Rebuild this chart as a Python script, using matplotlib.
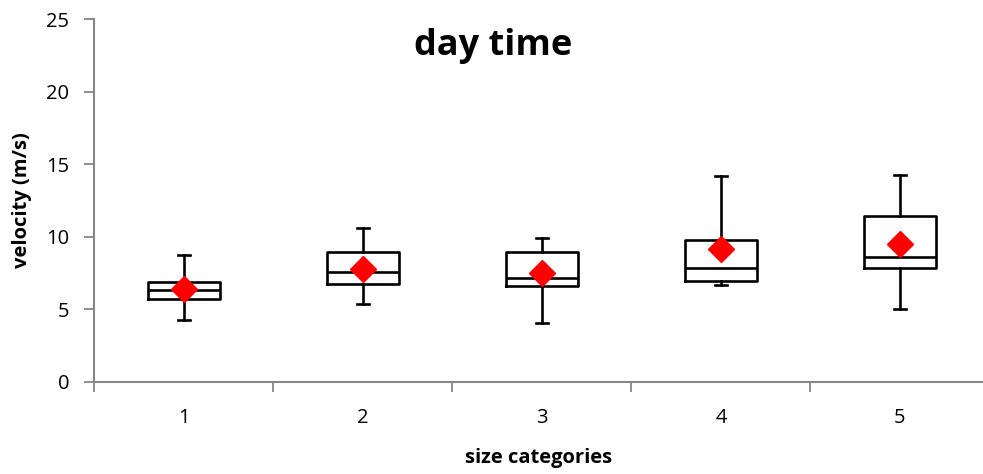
import matplotlib
matplotlib.use("Agg")
import matplotlib.pyplot as plt

categories = ["1", "2", "3", "4", "5"]
whisker_low = [4.25, 5.37, 4.06, 6.66, 5.05]
q1 = [5.69, 6.77, 6.63, 6.98, 7.87]
median = [6.36, 7.58, 7.14, 7.85, 8.63]
q3 = [6.91, 8.93, 8.97, 9.76, 11.45]
whisker_high = [8.77, 10.6, 9.89, 14.21, 14.28]
mean = [6.38, 7.76, 7.48, 9.14, 9.53]

plt.rcParams['font.family'] = ['Open Sans', 'DejaVu Sans']

fig = plt.figure(figsize=(9.83, 4.74), dpi=100)
ax = fig.add_axes([0.0961, 0.1941, 0.9039, 0.7658])

positions = list(range(1, len(categories) + 1))
stats = []
for i in range(len(categories)):
    stats.append({"whislo": whisker_low[i], "q1": q1[i], "med": median[i],
                  "q3": q3[i], "whishi": whisker_high[i], "fliers": []})

line = dict(color="black", linewidth=1.9)
ax.bxp(stats, positions=positions, widths=0.40, showfliers=False,
       boxprops=line, medianprops=line, whiskerprops=line,
       capprops=line, capwidths=0.07)
ax.plot(positions, mean, linestyle="none", marker="D", markersize=13,
        color="#ff0000", zorder=5)

ax.set_xlim(0.5, 5.464)
ax.set_ylim(0, 25)
ax.set_yticks([0, 5, 10, 15, 20, 25])
ax.set_xticks(positions)
ax.set_xticklabels(categories)
ax.set_xticks([0.5, 1.5, 2.5, 3.5, 4.5], minor=True)
ax.tick_params(axis="x", which="major", length=0, pad=19, labelsize=14.5)
ax.tick_params(axis="x", which="minor", length=7, width=1.3, color="#868686")
ax.tick_params(axis="y", length=7, width=1.3, color="#868686", labelsize=14.5, pad=11)

for side in ["top", "right"]:
    ax.spines[side].set_visible(False)
for side in ["left", "bottom"]:
    ax.spines[side].set_color("#868686")
    ax.spines[side].set_linewidth(1.5)

ax.set_xlabel("size categories", fontsize=14.5, fontweight="bold", labelpad=14)
ax.set_ylabel("velocity (m/s)", fontsize=14.5, fontweight="bold", labelpad=10)
ax.text(0.449, 0.925, "day time", transform=ax.transAxes, ha="center", va="center",
        fontsize=26, fontweight="bold")

fig.savefig("out.png", dpi=100)
